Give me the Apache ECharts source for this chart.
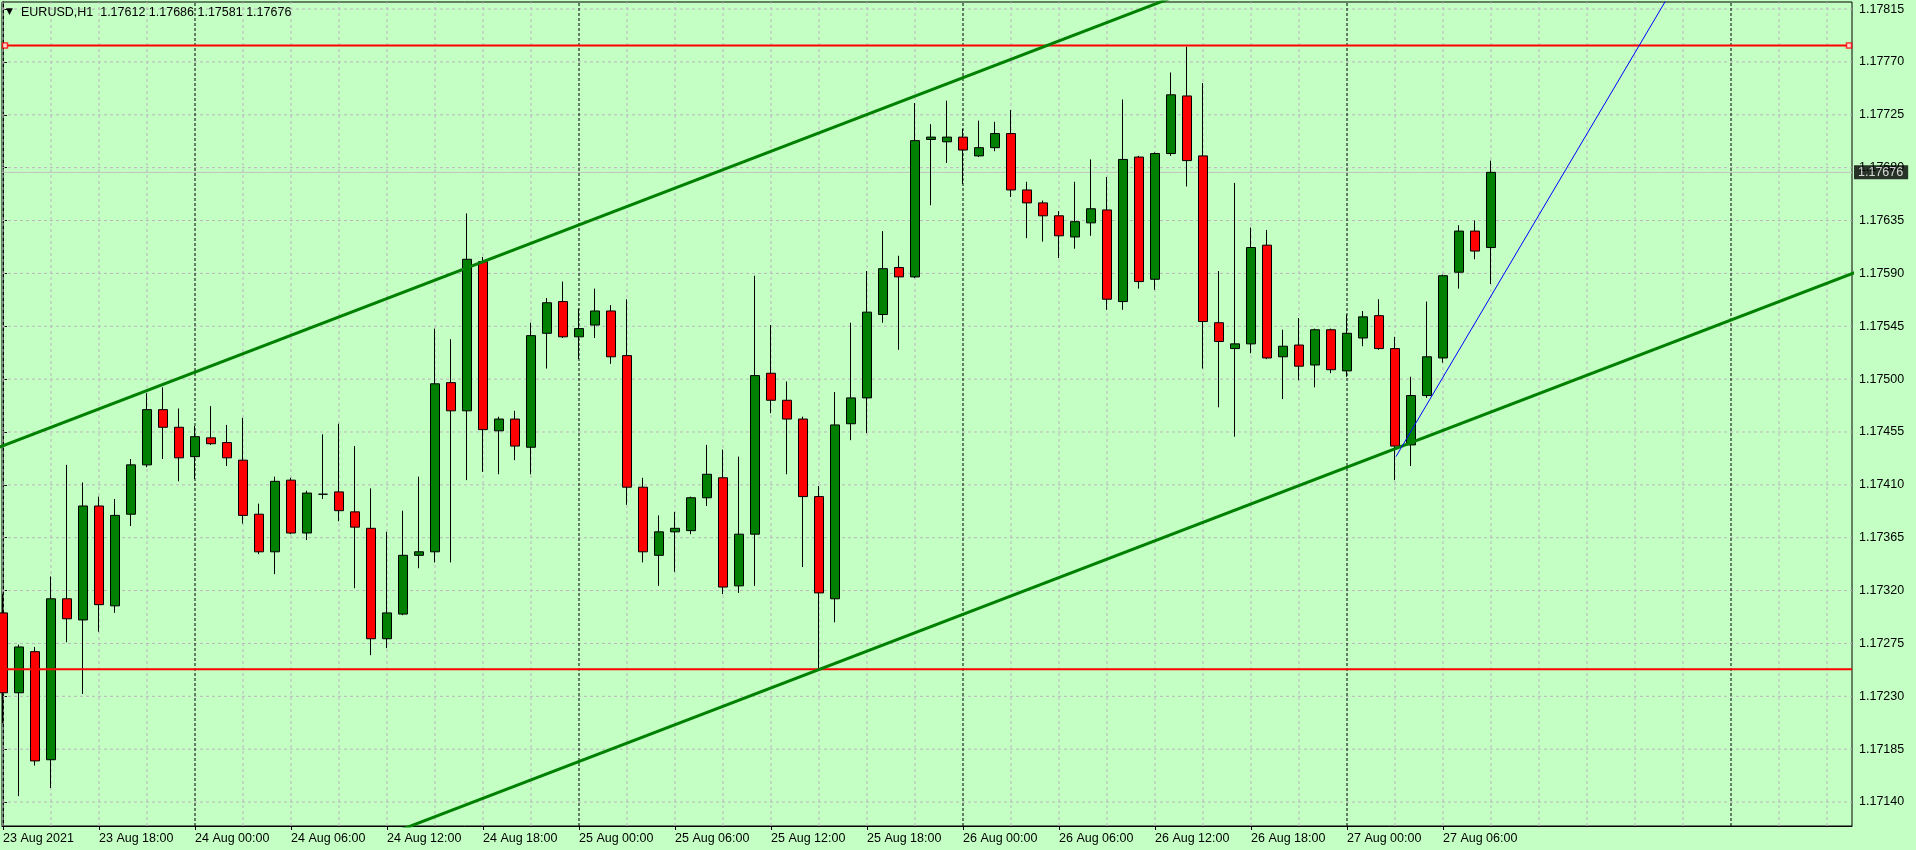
<!DOCTYPE html>
<html>
<head>
<meta charset="utf-8">
<script src="https://cdn.jsdelivr.net/npm/echarts@6/dist/echarts.min.js"></script>
<style>
html,body{margin:0;padding:0;background:#C4FFC4;}
#chart{width:1916px;height:850px;}
</style>
</head>
<body>
<div id="chart"></div>
<script>
// ---------------- data ----------------
const symbolName = 'EURUSD';
const timeframe = 'H1';
const firstBarHour = 12;          // first bar: 23 Aug 2021 12:00
const labelEvery = 6;             // one time label every 6 bars
const gridEvery = 3;              // vertical grid every 3 bars
const timeLabels = ['23 Aug 2021','23 Aug 18:00','24 Aug 00:00','24 Aug 06:00','24 Aug 12:00','24 Aug 18:00',
  '25 Aug 00:00','25 Aug 06:00','25 Aug 12:00','25 Aug 18:00','26 Aug 00:00','26 Aug 06:00','26 Aug 12:00',
  '26 Aug 18:00','27 Aug 00:00','27 Aug 06:00'];
const priceTicks = [1.17140,1.17185,1.17230,1.17275,1.17320,1.17365,1.17410,1.17455,1.17500,1.17545,
  1.17590,1.17635,1.17680,1.17725,1.17770,1.17815];

const opens = [1.17301,1.17233,1.17268,1.17176,1.17313,1.17295,1.17392,1.17307,1.17385,1.17427,
  1.17474,1.17459,1.17434,1.17450,1.17446,1.17431,1.17385,1.17353,1.17414,1.17369,
  1.17402,1.17404,1.17387,1.17373,1.17279,1.17300,1.17350,1.17353,1.17497,1.17473,
  1.17600,1.17456,1.17466,1.17442,1.17539,1.17566,1.17536,1.17546,1.17558,1.17520,
  1.17408,1.17350,1.17370,1.17371,1.17399,1.17416,1.17324,1.17368,1.17505,1.17482,
  1.17466,1.17400,1.17313,1.17462,1.17484,1.17555,1.17595,1.17587,1.17704,1.17702,
  1.17706,1.17690,1.17697,1.17709,1.17661,1.17650,1.17639,1.17621,1.17633,1.17644,
  1.17566,1.17689,1.17585,1.17692,1.17741,1.17690,1.17548,1.17526,1.17530,1.17614,
  1.17519,1.17529,1.17512,1.17542,1.17507,1.17535,1.17554,1.17526,1.17444,1.17486,
  1.17518,1.17591,1.17626,1.17612];
const highs = [1.17317,1.17274,1.17272,1.17332,1.17427,1.17412,1.17400,1.17398,1.17432,1.17488,
  1.17493,1.17475,1.17460,1.17477,1.17461,1.17467,1.17394,1.17417,1.17416,1.17405,
  1.17453,1.17462,1.17443,1.17407,1.17370,1.17388,1.17417,1.17543,1.17534,1.17641,
  1.17604,1.17468,1.17473,1.17548,1.17569,1.17583,1.17560,1.17577,1.17563,1.17568,
  1.17416,1.17384,1.17387,1.17400,1.17444,1.17440,1.17434,1.17588,1.17546,1.17498,
  1.17468,1.17409,1.17489,1.17548,1.17592,1.17626,1.17605,1.17735,1.17717,1.17737,
  1.17713,1.17720,1.17719,1.17729,1.17668,1.17652,1.17643,1.17668,1.17687,1.17672,
  1.17738,1.17690,1.17693,1.17761,1.17783,1.17752,1.17592,1.17667,1.17629,1.17627,
  1.17542,1.17552,1.17543,1.17543,1.17555,1.17558,1.17568,1.17536,1.17502,1.17566,
  1.17589,1.17631,1.17635,1.17686];
const lows = [1.17207,1.17145,1.17171,1.17152,1.17276,1.17232,1.17285,1.17301,1.17375,1.17425,
  1.17432,1.17413,1.17415,1.17444,1.17426,1.17377,1.17351,1.17334,1.17368,1.17363,
  1.17398,1.17379,1.17322,1.17265,1.17271,1.17299,1.17339,1.17344,1.17344,1.17414,
  1.17421,1.17419,1.17431,1.17419,1.17509,1.17535,1.17517,1.17535,1.17513,1.17393,
  1.17344,1.17324,1.17336,1.17368,1.17392,1.17317,1.17318,1.17324,1.17471,1.17419,
  1.17340,1.17253,1.17293,1.17448,1.17454,1.17548,1.17525,1.17586,1.17648,1.17684,
  1.17666,1.17689,1.17694,1.17655,1.17620,1.17617,1.17603,1.17611,1.17622,1.17559,
  1.17559,1.17577,1.17576,1.17690,1.17664,1.17509,1.17476,1.17451,1.17522,1.17517,
  1.17483,1.17499,1.17493,1.17505,1.17502,1.17528,1.17525,1.17414,1.17426,1.17484,
  1.17514,1.17577,1.17602,1.17581];
const closes = [1.17233,1.17272,1.17175,1.17313,1.17296,1.17392,1.17308,1.17384,1.17427,1.17474,
  1.17459,1.17433,1.17451,1.17445,1.17433,1.17384,1.17353,1.17413,1.17369,1.17403,
  1.17402,1.17388,1.17374,1.17279,1.17301,1.17350,1.17353,1.17496,1.17473,1.17602,
  1.17457,1.17466,1.17443,1.17537,1.17565,1.17536,1.17543,1.17558,1.17519,1.17408,
  1.17353,1.17370,1.17373,1.17399,1.17419,1.17323,1.17368,1.17503,1.17482,1.17466,
  1.17400,1.17318,1.17461,1.17484,1.17557,1.17594,1.17587,1.17703,1.17706,1.17706,
  1.17695,1.17697,1.17709,1.17661,1.17650,1.17639,1.17622,1.17634,1.17645,1.17568,
  1.17687,1.17583,1.17692,1.17742,1.17686,1.17549,1.17532,1.17530,1.17612,1.17518,
  1.17528,1.17511,1.17542,1.17508,1.17539,1.17553,1.17526,1.17443,1.17486,1.17519,
  1.17588,1.17626,1.17609,1.17676];

// drawn objects (bar index, price)
const resistanceLevel = 1.17784;
const supportLevel = 1.17253;
const upperChannel = [[-1, 1.17438], [80, 1.17861]];
const lowerChannel = [[20, 1.17091], [116, 1.17592]];
const blueTrend = [[87.06, 1.17434], [105, 1.17847]];

// ---------------- layout ----------------
const BG = '#C4FFC4';
const FONT = 'Liberation Sans';
const xMin = -0.0625, xMax = 115.5625;
const yMin = 1.171196, yMax = 1.178210;
const GRID_COLOR = '#BDB4BD';

const last = opens.length - 1;
const headerText = `${symbolName},${timeframe}  ${opens[last].toFixed(5)} ${highs[last].toFixed(5)} ${lows[last].toFixed(5)} ${closes[last].toFixed(5)}`;

const candleData = opens.map((o, i) => [i, o, closes[i], lows[i], highs[i]]);

function seg(data, color, width, type, z) {
  return {
    type: 'line', data: data, z: z, silent: true, animation: false,
    symbol: 'none', showSymbol: false, clip: true,
    lineStyle: { color: color, width: width, type: type }
  };
}

const series = [];
// horizontal grid
priceTicks.forEach(p => series.push(seg([[xMin, p], [xMax, p]], GRID_COLOR, 1, [3, 3], 1)));
// vertical grid + day separators
for (let i = 0; i <= Math.floor(xMax); i += gridEvery) {
  const isMidnight = (firstBarHour + i) % 24 === 0;
  if (isMidnight) series.push(seg([[i, yMin], [i, yMax]], '#000000', 1, [3, 2], 1));
  else series.push(seg([[i, yMin], [i, yMax]], GRID_COLOR, 1, [3, 3], 1));
}
// current (bid) price line
series.push(seg([[xMin, closes[last]], [xMax, closes[last]]], '#C0C0C0', 1, 'solid', 1));
// candles
series.push({
  type: 'candlestick', data: candleData, z: 2, animation: false, silent: true,
  encode: { x: 0, y: [1, 2, 3, 4] },
  barWidth: 9,
  itemStyle: {
    color: '#008000', color0: '#FF0000',
    borderColor: '#000000', borderColor0: '#000000', borderColorDoji: '#000000',
    borderWidth: 1
  }
});
// objects
series.push(seg([[xMin, resistanceLevel], [xMax, resistanceLevel]], '#FF0000', 2, 'solid', 3));
series.push(seg([[xMin, supportLevel], [xMax, supportLevel]], '#FF0000', 2, 'solid', 3));
series.push(seg(upperChannel, '#008000', 3, 'solid', 3));
series.push(seg(lowerChannel, '#008000', 3, 'solid', 3));
series.push(seg(blueTrend, '#0000FF', 1, 'solid', 3));
series.push({
  type: 'scatter', z: 4, silent: true, animation: false,
  symbol: 'rect', symbolSize: 5,
  itemStyle: { color: '#FFFFFF', borderColor: '#FF0000', borderWidth: 1.5 },
  data: [[0.125, resistanceLevel], [115.375, resistanceLevel]]
});
// current price tag on the price scale
series.push({
  type: 'scatter', z: 20, silent: true, animation: false, clip: false,
  symbol: 'rect', symbolSize: 0,
  data: [[xMax, closes[last]]],
  label: {
    show: true, position: 'right', distance: 2,
    formatter: () => closes[last].toFixed(5),
    color: '#FFFFFF', backgroundColor: '#000000',
    fontFamily: FONT, fontSize: 12.5, padding: [1, 5, 0, 4], lineHeight: 13
  }
});

const chart = echarts.init(document.getElementById('chart'), null, { renderer: 'canvas' });
chart.setOption({
  backgroundColor: BG,
  animation: false,
  title: [
    { text: '▼', left: 6, top: 7, padding: 0, textStyle: { fontSize: 9, fontFamily: 'DejaVu Sans', color: '#000', fontWeight: 'normal' } },
    { text: headerText, left: 21, top: 6, padding: 0, textStyle: { fontSize: 12.5, fontFamily: FONT, color: '#000', fontWeight: 'normal', lineHeight: 14 } }
  ],
  grid: {
    left: 2, top: 2, right: 64, bottom: 24,
    show: true, borderColor: '#000000', borderWidth: 1, backgroundColor: BG,
    containLabel: false, outerBoundsMode: 'none'
  },
  xAxis: {
    type: 'value', min: xMin, max: xMax,
    axisLine: { show: true, lineStyle: { color: '#000', width: 1 } },
    axisTick: { show: true, length: 4, lineStyle: { color: '#000' }, customValues: timeLabels.map((_, k) => k * labelEvery) },
    axisLabel: {
      show: true, customValues: timeLabels.map((_, k) => k * labelEvery),
      formatter: v => timeLabels[Math.round(v / labelEvery)],
      align: 'left', margin: 6, color: '#000', fontFamily: FONT, fontSize: 12.5
    },
    splitLine: { show: false }
  },
  yAxis: {
    type: 'value', position: 'right', min: yMin, max: yMax, scale: true,
    axisLine: { show: true, lineStyle: { color: '#000', width: 1 } },
    axisTick: { show: true, length: 4, lineStyle: { color: '#000' }, customValues: priceTicks },
    axisLabel: {
      show: true, customValues: priceTicks, formatter: v => v.toFixed(5),
      margin: 7, color: '#000', fontFamily: FONT, fontSize: 12.5
    },
    splitLine: { show: false }
  },
  series: series
});
</script>
</body>
</html>
